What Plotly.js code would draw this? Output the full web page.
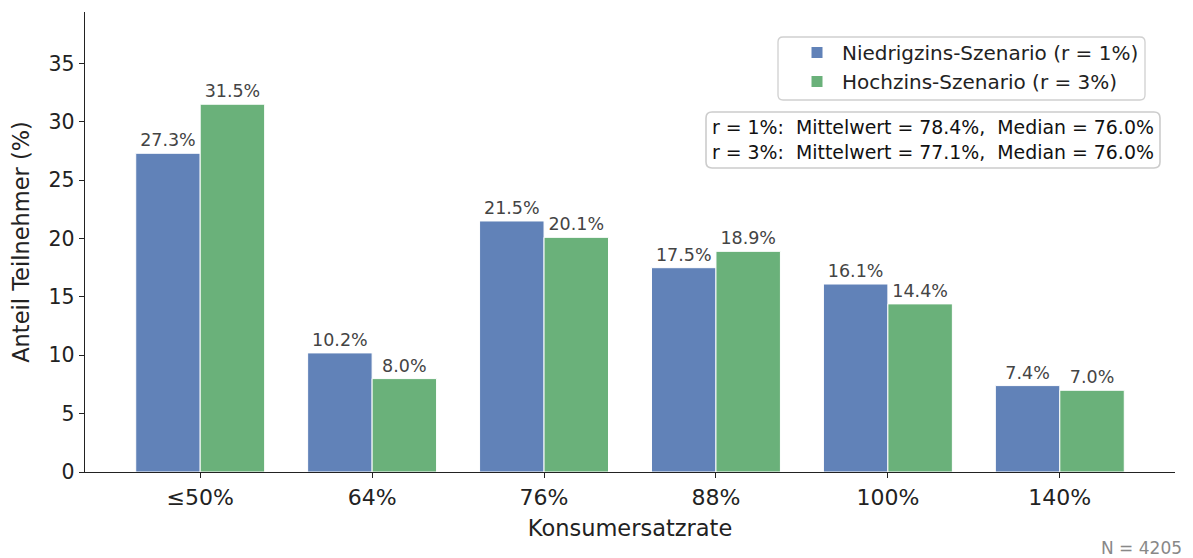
<!DOCTYPE html>
<html>
<head>
<meta charset="utf-8">
<script src="https://cdn.plot.ly/plotly-3.0.1.min.js"></script>
<style>html,body{margin:0;padding:0;background:#fff;}#chart{width:1193px;height:558px;}</style>
</head>
<body>
<div id="chart"></div>
<script>
const categories = ["≤50%", "64%", "76%", "88%", "100%", "140%"];
const niedrig = [27.3, 10.2, 21.5, 17.5, 16.1, 7.4];
const hoch = [31.5, 8.0, 20.1, 18.9, 14.4, 7.0];
const seriesNames = ["Niedrigzins-Szenario (r = 1%)", "Hochzins-Szenario (r = 3%)"];
const statsLines = ["r = 1%:\u00a0 Mittelwert = 78.4%,\u00a0 Median = 76.0%", "r = 3%:\u00a0 Mittelwert = 77.1%,\u00a0 Median = 76.0%"];
const nLabel = "N = 4205";

const font = "DejaVu Sans, Liberation Sans, sans-serif";
// plot area in pixels (for placing decoration boxes)
const PL = 85, PR = 1175, PT = 12, PB = 472;
const px2x = p => (p - PL) / (PR - PL);
const px2y = p => (PB - p) / (PB - PT);
function roundRect(x0, y0, x1, y1, r) {
  const X = px2x, Y = px2y;
  return "M" + X(x0 + r) + "," + Y(y0) +
    " L" + X(x1 - r) + "," + Y(y0) + " Q" + X(x1) + "," + Y(y0) + " " + X(x1) + "," + Y(y0 + r) +
    " L" + X(x1) + "," + Y(y1 - r) + " Q" + X(x1) + "," + Y(y1) + " " + X(x1 - r) + "," + Y(y1) +
    " L" + X(x0 + r) + "," + Y(y1) + " Q" + X(x0) + "," + Y(y1) + " " + X(x0) + "," + Y(y1 - r) +
    " L" + X(x0) + "," + Y(y0 + r) + " Q" + X(x0) + "," + Y(y0) + " " + X(x0 + r) + "," + Y(y0) + " Z";
}

function mk(vals, name, color) {
  return {
    type: "bar", x: categories, y: vals, name: name,
    marker: {color: color, line: {color: "#ffffff", width: 1}},
    text: vals.map(v => v.toFixed(1) + "%"),
    textposition: "outside", cliponaxis: false, constraintext: "none",
    textfont: {family: font, size: 17.5, color: "#444444"},
    hoverinfo: "x+y"
  };
}
const data = [mk(niedrig, seriesNames[0], "#6182B8"), mk(hoch, seriesNames[1], "#6AB17A")];
const layout = {
  width: 1193, height: 558,
  margin: {l: PL, r: 1193 - PR, t: PT, b: 558 - PB},
  paper_bgcolor: "#fff", plot_bgcolor: "#fff",
  barmode: "group", bargap: 0.25, bargroupgap: 0,
  font: {family: font, color: "#222"},
  xaxis: {
    type: "category", range: [-0.67, 5.67],
    showline: true, linecolor: "#222", linewidth: 1.3,
    ticks: "outside", ticklen: 5, tickcolor: "#222",
    tickfont: {size: 22, color: "#222"},
    title: {text: "Konsumersatzrate", font: {size: 22.5, color: "#222"}, standoff: 11},
    showgrid: false, zeroline: false
  },
  yaxis: {
    range: [0, 39.4], dtick: 5,
    showline: true, linecolor: "#222", linewidth: 1.3,
    ticks: "outside", ticklen: 5, tickcolor: "#222",
    tickfont: {size: 20.5, color: "#222"},
    title: {text: "Anteil Teilnehmer (%)", font: {size: 22.5, color: "#222"}, standoff: 12},
    showgrid: false, zeroline: false
  },
  showlegend: true,
  legend: {
    x: px2x(792), y: px2y(33), xanchor: "left", yanchor: "top",
    bgcolor: "rgba(0,0,0,0)", borderwidth: 0,
    font: {size: 20, color: "#222"}, itemwidth: 40
  },
  shapes: [
    {type: "path", xref: "paper", yref: "paper", layer: "above",
     path: roundRect(778, 37, 1145, 100, 5), line: {color: "#d0d0d0", width: 1.3}, fillcolor: "rgba(255,255,255,0.8)"},
    {type: "path", xref: "paper", yref: "paper", layer: "above",
     path: roundRect(706, 112, 1160, 168, 6), line: {color: "#cccccc", width: 1.6}, fillcolor: "#ffffff"}
  ],
  annotations: [
    {
      xref: "paper", yref: "paper", x: px2x(933), y: px2y(140), xanchor: "center", yanchor: "middle",
      text: statsLines.join("<br>"), showarrow: false, align: "left",
      font: {family: font, size: 18.9, color: "#111"}
    },
    {
      xref: "paper", yref: "paper", x: px2x(1184), y: px2y(548), xanchor: "right", yanchor: "middle",
      text: nLabel, showarrow: false,
      font: {family: font, size: 17, color: "#888888"}
    }
  ]
};
Plotly.newPlot("chart", data, layout, {displayModeBar: false, staticPlot: true});
</script>
</body>
</html>
